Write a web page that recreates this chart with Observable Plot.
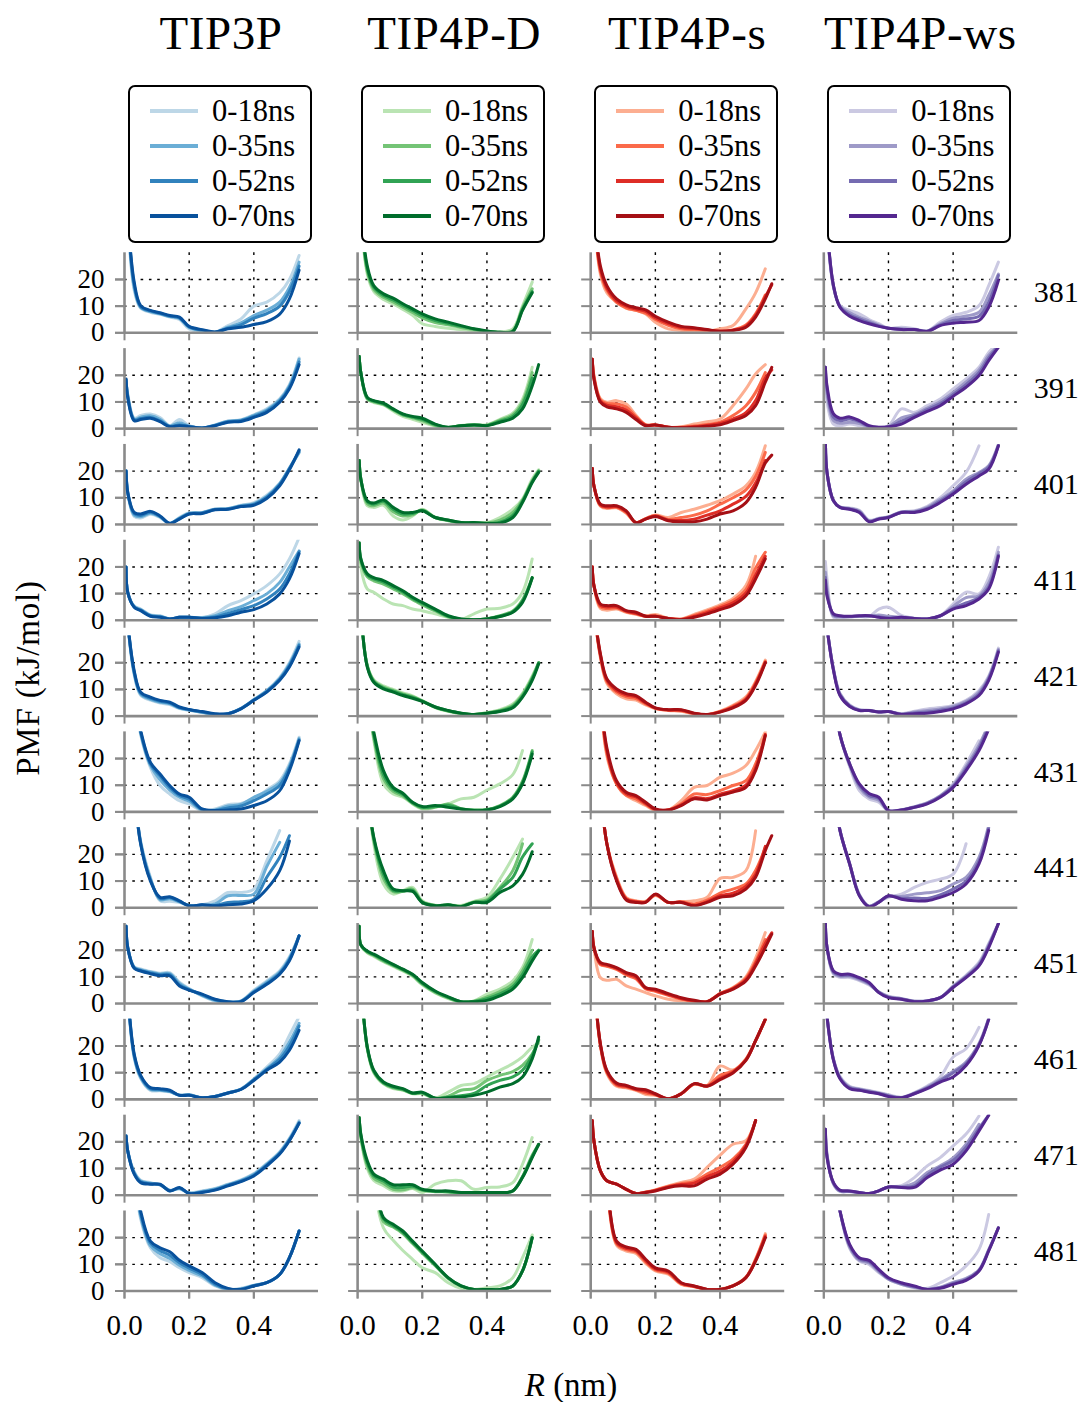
<!DOCTYPE html>
<html>
<head>
<meta charset="utf-8">
<script src="https://cdn.jsdelivr.net/npm/d3@7"></script>
<script src="https://cdn.jsdelivr.net/npm/@observablehq/plot@0.6"></script>
<style>
  body { margin: 0; background: #fff; }
  #wrap { position: relative; width: 1083px; height: 1402px; font-family: "Liberation Serif", "Times New Roman", serif; color: #000; }
  .title { position: absolute; top: 10px; width: 260px; text-align: center; font-size: 47px; line-height: 47px; letter-spacing: 0.6px; }
  .legend { position: absolute; top: 85px; width: 184px; height: 158px; box-sizing: border-box; border: 2px solid #000; border-radius: 7px; background: #fff; }
  .lgline { position: absolute; width: 48px; height: 3.6px; }
  .lgtext { position: absolute; font-size: 30.5px; line-height: 30px; white-space: nowrap; }
  #chart { position: absolute; left: 0; top: 245px; }
  .ylab { position: absolute; left: 28px; top: 678px; transform: translate(-50%, -50%) rotate(-90deg); font-size: 33px; white-space: nowrap; letter-spacing: 0.8px; }
  .xlab { position: absolute; left: 571px; top: 1385px; transform: translate(-50%, -50%); font-size: 33px; white-space: nowrap; }
</style>
</head>
<body>
<div id="wrap"></div>
<script>
// ---- data -----------------------------------------------------------
const R = [0.005,0.01,0.03,0.05,0.08,0.11,0.14,0.17,0.20,0.24,0.28,0.32,0.36,0.40,0.44,0.48,0.51,0.54,0.56];
const models = ["TIP3P","TIP4P-D","TIP4P-s","TIP4P-ws"];
const residues = [381,391,401,411,421,431,441,451,461,471,481];
const windows = ["0-18ns","0-35ns","0-52ns","0-70ns"];
const blues   = ["#bdd7e7","#6baed6","#3182bd","#08519c"];
const greens  = ["#bae4b3","#74c476","#31a354","#006d2c"];
const reds    = ["#fcae91","#fb6a4a","#de2d26","#a50f15"];
const purples = ["#cbc9e2","#9e9ac8","#756bb1","#54278f"];

// each residue: [0-18ns, 0-35ns, 0-52ns, 0-70ns], values at R (kJ/mol)
const pmfTIP3P = [
 [[null,45,16,9.2,7.7,6.9,5.9,5.0,1.5,0.5,0.2,2.7,5.2,10,11.5,15,20,29,null],
  [null,45,17,9.5,8.0,7.1,6.1,5.4,2.0,0.8,0.2,2.1,3.7,6.5,8.5,11.5,17,26.5,null],
  [null,45,18,9.8,8.2,7.3,6.3,5.6,2.2,1.0,0.2,1.7,3.0,5.5,7.2,10,15.5,25,null],
  [null,45,19,10.2,8.4,7.5,6.5,5.9,2.4,1.2,0.3,1.5,2.1,3.1,4.2,7,12.7,23.5,null]],
 [[17.5,13,4.0,4.9,5.5,4.2,1.1,3.4,1.1,0.2,1.4,2.9,3.3,5.2,7.4,11.2,16.5,26.5,null],
  [18,12.5,3.6,4.3,4.8,3.5,1.0,2.2,0.9,0.2,1.3,2.8,3.2,5.0,7.0,10.8,16,26,null],
  [18.3,12,3.3,3.8,4.2,2.9,0.8,1.4,0.8,0.2,1.2,2.6,3.0,4.6,6.6,10.3,15.5,25,null],
  [18.6,11.7,3,3.4,3.9,2.6,0.7,1.1,0.7,0.2,1.1,2.4,2.7,4.2,6.1,9.9,14.9,24,null]],
 [[20,12,3.0,2.4,3.8,2.6,0.4,2.6,4.4,4.5,5.8,6.0,7.2,8.2,11,15.5,21.2,27,null],
  [20,12,3.5,2.9,4.2,2.8,0.4,2.4,4.2,4.4,5.7,5.9,7.0,7.8,10.5,15.3,21,27,null],
  [20,12,4.0,3.4,4.6,3.0,0.4,2.2,4.0,4.3,5.6,5.8,6.8,7.5,10.2,15,21,27.5,null],
  [20,12,4.5,3.9,4.9,3.2,0.4,2,3.9,4.1,5.5,5.7,6.7,7.2,9.7,14.5,20.5,28,null]],
 [[20,10.5,5.4,4.2,2.0,1.7,0.5,1.2,1.2,1.0,2.4,5.5,7.4,9.9,13,17.4,23,31,null],
  [20,10.5,5.2,4.0,1.9,1.5,0.5,1.1,1.1,0.9,1.7,3.6,5.1,7.4,9.9,14.2,20,26,null],
  [20,10.5,5.0,3.8,1.7,1.3,0.5,1.1,1.1,0.8,1.2,2.6,4,5.5,8,11.7,17.4,25.7,null],
  [20,10.5,4.9,3.6,1.5,1.1,0.5,1.1,1.1,0.7,0.9,1.7,3,4,6.1,9.9,15.5,25,null]],
 [[null,35,15.5,7.8,6,4.9,4.3,2.8,2.2,1.3,0.5,0.9,2.9,6.2,9.6,14.5,20,28,null],
  [null,35,16,8.2,6.3,5.2,4.6,3.0,2.3,1.4,0.6,0.9,2.8,6.1,9.4,14.1,19.5,27,null],
  [null,35,16.5,8.6,6.7,5.5,4.9,3.2,2.4,1.5,0.7,0.9,2.8,6.0,9.2,13.8,19,26.5,null],
  [null,35,17,9,7.1,5.9,5.2,3.4,2.5,1.7,0.9,0.9,2.7,5.9,9,13.4,18.4,25.9,null]],
 [[null,null,45,29,16.7,9.9,6.7,4.2,3,0.5,1.1,2.7,3.2,4.9,8.2,11.7,18,28,null],
  [null,null,45,29.5,17.5,12,8.2,5.5,4.0,0.7,0.7,2.2,2.8,5.5,7.7,10.9,17.2,27.5,null],
  [null,null,45,30,18,13.5,9.2,6.2,4.8,0.9,0.5,1.5,2.2,4.2,6.7,9.9,16.5,27,null],
  [null,null,45,30.5,18.6,14.2,9.9,6.7,5.5,1.1,0.5,0.7,1.1,2.4,4.2,8,15.5,26.7,null]],
 [[null,null,45,25,11.5,2.6,2.4,2.0,0.7,1.1,2.6,5.7,5.7,7,17.6,28.9,null,null,null],
  [null,null,45,24.5,11,3.0,3.4,2.2,0.8,1.0,1.4,4.5,4.6,5.1,15.4,24.5,null,null,null],
  [null,null,45,24,10.5,3.5,3.8,2.4,0.8,1.0,0.8,2.0,2.2,3.2,11.4,18.9,27,null,null],
  [null,null,45,23.9,10.1,3.9,4.1,2.6,0.7,1.1,0.7,1.1,1.4,2.6,7,13.9,25,null,null]],
 [[29,21,13.8,13,12,11.4,11.6,8,5.6,2.9,1.0,0.4,1.0,5,8.5,12.3,17.5,25.4,null],
  [29,21,13.6,12.7,11.8,11.1,11.2,7.5,5.4,3.1,1.2,0.5,0.9,4.6,8.0,11.8,17,25.4,null],
  [29,21,13.4,12.4,11.5,10.8,10.8,7.0,5.2,3.3,1.4,0.6,0.8,4.3,7.5,11.3,16.5,25.4,null],
  [29,21,13.2,12.2,11.2,10.4,10.4,6.6,5,3.5,1.6,0.7,0.7,4.1,7.2,11,16,25.4,null]],
 [[null,40,15.5,7.8,3.4,3.2,2.8,1.7,1.8,0.6,1.2,2.5,3.9,7.7,12.1,17.1,24,31,null],
  [null,40,16,8.2,3.7,3.4,2.9,1.6,1.7,0.6,1.1,2.4,3.8,7.5,11.5,15.8,21.5,28.5,null],
  [null,40,16.5,8.6,4.0,3.7,3.1,1.5,1.6,0.6,1.1,2.4,3.8,7.3,11.2,15,20,27.5,null],
  [null,40,17,9,4.4,4,3.4,1.5,1.5,0.6,1.1,2.4,3.7,7.1,10.9,14,18.4,25.9,null]],
 [[22.2,16.6,8.8,5.6,4.7,3.8,1.9,2.3,0.9,1.6,2.5,4.1,5.7,8.1,11.9,16.3,21.3,28,null],
  [22.2,16.6,8.5,5.3,4.5,3.9,1.8,2.5,0.8,1.4,2.3,3.9,5.5,7.8,11.6,16,21,27.5,null],
  [22.2,16.6,8.2,5.0,4.3,4.0,1.7,2.7,0.7,1.2,2.1,3.7,5.3,7.5,11.3,15.7,20.7,27,null],
  [22.2,16.6,7.9,4.7,4.1,4.1,1.6,2.9,0.6,1,1.9,3.5,5.1,7.2,11,15.4,20.4,27,null]],
 [[null,null,45,27,16.2,12.5,11,8.7,6.9,5,1.9,0.6,1,2.2,3.2,6.2,12.5,22.5,null],
  [null,null,45,28,17,14,12.2,9.7,7.7,5.6,2.2,0.7,0.8,2.1,3.1,6.2,12.5,22.5,null],
  [null,null,45,29,18,15.2,13.4,10.6,8.6,6.2,2.6,0.8,0.7,2.0,3.1,6.2,12.5,22.5,null],
  [null,null,45,30,18.7,16.2,14.7,11.5,9.4,6.9,3.1,1,0.6,1.9,3.1,6.2,12.5,22.5,null]]
];

const pmfTIP4PD = [
 [[null,45,22,15.5,12.5,10.8,8.8,6.6,3.4,2.4,1.7,1.2,0.8,0.4,0.2,1.5,10,19,null],
  [null,45,23,16.3,13.3,11.6,9.6,7.6,5.6,3.8,3,2,1.2,0.5,0.2,0.8,9.3,16.5,null],
  [null,45,24,17,14,12.3,10.3,8.4,6.4,4.6,3.5,2.4,1.4,0.6,0.2,0.6,8.8,15.5,null],
  [null,45,25,17.7,14.6,13,10.9,9,7.1,5.2,4,2.7,1.5,0.7,0.2,0.5,8.4,15,null]],
 [[27,21,11,9.8,8.9,6.6,4.6,3.5,2.4,1.0,0.4,1.2,1.5,1.5,3.5,5.8,11,23,null],
  [27,21,11.2,10,9.1,7,5.1,4.1,3.0,1.2,0.4,1.1,1.4,1.3,3.2,5.2,10,21,null],
  [27,21,11.5,10.3,9.3,7.2,5.3,4.3,3.5,1.5,0.4,1.1,1.4,1.2,2.8,4.6,9,19,null],
  [27,21,11.7,10.5,9.6,7.4,5.5,4.6,3.9,1.7,0.5,1.1,1.4,1.1,2.4,3.9,7.4,16,24]],
 [[24,17,7,6.4,7.2,3.2,1.7,3.2,5.7,2.6,1.4,0.6,0.6,0.7,2.6,5.7,9.5,17,20.5],
  [24,17,7.8,7,8.0,4.8,3.2,3.6,5.4,2.6,1.5,0.6,0.6,0.5,1.6,4.5,9.1,16.4,20],
  [24,17,8.5,7.6,8.7,5.7,3.9,4.1,5.2,2.6,1.6,0.7,0.7,0.4,0.8,3.4,8.7,16,20],
  [24,17,8.9,8,9.2,6.4,4.5,4.5,5.1,2.6,1.7,0.7,0.7,0.4,0.5,2.6,8.2,15.7,19.5]],
 [[29,20,11.7,10.5,8,6.1,5.5,4.2,3.6,2.4,1.1,0.3,2.4,4.2,4.5,6.1,10.5,23,null],
  [29,22,16.3,14.8,13.6,11.8,10,7.7,5.8,3.5,1.3,0.3,0.2,0.6,1.7,3.5,7.7,16,null],
  [29,23,17,15.5,14.3,12.4,10.6,8.2,6.3,3.9,1.5,0.4,0.2,0.5,1.5,3.2,7.2,15.8,null],
  [29,23,17.4,16,14.9,13,11.1,8.6,6.7,4.2,1.7,0.5,0.2,0.5,1.4,3,6.7,16,null]],
 [[null,40,19,13.6,11.3,10,8.7,7.6,5.8,3.2,1.8,1.0,0.6,1.3,2.4,4.5,8.5,15,20],
  [null,40,18.8,13.3,10.9,9.6,8.3,7.3,5.7,3.3,1.9,1.0,0.6,1.2,2.1,4.0,8.0,14.5,20],
  [null,40,18.6,13,10.5,9.3,8.0,7.0,5.6,3.4,2.0,1.1,0.6,1.1,1.9,3.6,7.5,14,20],
  [null,40,18.4,12.7,10.2,9,7.7,6.7,5.5,3.4,2.1,1.1,0.6,1.1,1.7,3.1,7.1,13.4,19.6]],
 [[null,null,45,27,10.5,6.7,5.5,3,1.1,1.7,3,4.9,5.5,8.2,10.5,14,23,null,null],
  [null,null,45,28,12.5,7.7,6.0,3.2,1.4,1.8,3.0,1.2,0.7,0.9,2.4,5.5,11.5,23,null],
  [null,null,45,29,14,8.5,6.5,3.4,1.7,2.0,2.5,1.1,0.6,0.8,2.2,5.2,11,22.5,null],
  [null,null,45,30,15.5,9.2,7,3.6,2,2.4,1.7,1.1,0.5,0.7,2,4.9,10.5,21.7,null]],
 [[null,null,45,24,8.9,5.1,6.4,7.6,2.6,0.9,1.1,0.8,2.4,3.9,10.7,18.9,25.7,null,null],
  [null,null,45,25.5,11,6,6.2,7,2.2,0.8,1.0,0.6,2.2,3.0,7.6,13.9,24,null,null],
  [null,null,45,26,12.5,6.5,6.3,6.5,2.0,0.8,1.0,0.5,2.0,2.5,7,11.4,19,24,null],
  [null,null,45,26.4,13.9,7,6.4,6.1,2,0.7,1.1,0.4,2,2,5.7,8.2,12.5,21,null]],
 [[29,22,19,17.7,15.7,13.9,12.2,10.2,7,4,1.9,0.6,1.0,3.5,5.4,8.5,13.5,24,null],
  [29,22,19.2,18,16,14.2,12.5,10.5,7.3,4.2,2.1,0.6,0.9,2.5,4.5,7.4,12.3,20,null],
  [29,22,19.5,18.3,16.3,14.5,12.7,10.8,7.6,4.5,2.3,0.7,0.8,1.8,3.6,6.3,11,17.5,20],
  [29,22,19.7,18.5,16.6,14.7,12.9,11,7.9,4.7,2.5,0.7,0.7,1.2,2.9,5.4,9.7,16,19.7]],
 [[null,45,19,10,5.8,4,3.4,2.1,2.1,0.5,2.7,5.2,5.9,8.4,10.9,13.4,15.9,19.6,21],
  [null,45,19.2,10.3,6,4.3,3.6,2.2,2.3,0.4,1.2,3.4,4,7.1,9,10.4,12.7,17,22],
  [null,45,19.4,10.6,6.2,4.6,3.8,2.3,2.5,0.4,0.8,1.4,2.2,5.2,7.1,8.4,10.9,16.5,22.5],
  [null,45,19.6,10.9,6.5,4.9,4,2.4,2.7,0.4,0.6,0.9,1.5,2.7,4.6,5.9,8.4,15.2,23.4]],
 [[29,21.5,10,5.5,3.6,1.6,1.6,2.5,1.0,4.1,5.4,5.4,2.2,2.9,3.1,4.7,11.6,21.6,null],
  [29,22,11,6.4,4.4,2.2,2.0,2.8,1.8,1.3,1.2,0.8,0.8,1,1,1.6,7,15,19],
  [29,22.5,12,7.2,5.3,3.0,2.9,3.3,2.0,1.4,1.3,0.9,0.9,1,1,1.6,6.8,14.5,19],
  [29,22.9,12.9,7.9,6,3.9,3.9,3.9,2.2,1.6,1.6,1,1,1,1,1.6,6.6,14.1,19.1]],
 [[null,null,null,40,23.7,19,15.2,11.9,8.7,6.9,3.1,1,0.6,1.2,1.9,5,12.5,21,null],
  [null,null,null,45,26,24,21.5,17.8,14.2,9.5,4.7,1.8,0.6,0.6,0.6,1.9,7.5,20,null],
  [null,null,null,45,27,24.5,22,18.2,14.6,9.8,4.9,1.9,0.6,0.6,0.6,1.9,7.5,20,null],
  [null,null,null,45,27.5,25,22.5,18.7,15,10,5,1.9,0.6,0.6,0.6,1.9,7.5,20,null]]
];

const pmfTIP4Ps = [
 [[null,45,22,15,11.5,9.2,8.4,7.1,4,1.5,0.9,0.5,0.5,1.5,2.7,9,15,24,null],
  [null,45,23,16,11.4,9.4,8.4,7.4,5.0,2.8,1.5,1.2,1.0,0.6,1.1,2.9,7.1,14.2,null],
  [null,45,24,16.8,12,10,8.9,8,5.6,3.5,2.0,1.6,1.1,0.6,1.0,2.5,6.5,13.5,18],
  [null,45,25,17.7,12.7,10.5,9.4,8.6,6.2,4,2.4,1.9,1.2,0.6,0.9,2.1,5.9,12.7,18.4]],
 [[26,20,11.2,9.9,10.5,9.2,5,1.5,1.4,0.5,0.7,1.7,2.6,3.6,8.6,14.9,20.5,24,null],
  [26,19.5,10.8,9.4,9.3,8.1,4.5,1.4,1.4,0.5,0.5,1.0,1.6,2.4,4.9,8.6,13.6,21,null],
  [26,19,10.3,8.8,8.2,7.0,4.0,1.3,1.4,0.5,0.4,0.7,1.2,1.9,3.6,6,10.5,19,22],
  [26,18.6,9.9,8.2,7.4,6.1,3.4,1.1,1.4,0.5,0.3,0.5,0.9,1.4,3,4.9,8.6,17.4,23]],
 [[21,14.5,6.8,6,6.2,4.2,0.7,2.2,3.5,2.6,4.5,5.7,7.2,8.9,11.4,14.5,19.5,29.5,null],
  [21,14.5,7.0,6.3,6.4,4.5,0.7,2.2,3.4,1.9,2.6,3.5,5.1,7.6,10,13,18,27,null],
  [21,14.5,7.3,6.6,6.7,4.8,0.7,2.1,3.2,1.6,1.5,2.0,3.5,5.1,7.6,10.5,15.5,24,null],
  [21,14.5,7.6,7,7,5.1,0.7,2,3,1.4,1,1,2,3.9,5.1,8.2,13.9,23,26]],
 [[20,13,4.4,3.8,4.2,3.0,2.2,1.6,2.2,0.8,0.5,2.2,3.9,5.8,8.2,13,24,null,null],
  [20,13,5.0,4.4,4.6,3.2,2.4,1.5,1.7,0.7,0.4,1.8,3.4,5.2,7.4,11.5,19.5,25.5,null],
  [20,13,5.6,5.0,5.0,3.4,2.6,1.5,1.5,0.7,0.3,1.4,2.9,4.6,6.5,10.2,17,24,null],
  [20,13,6.1,5.5,5.5,3.6,3,1.5,1.5,0.7,0.2,1.1,2.4,4,5.7,9.2,15.5,23,null]],
 [[null,40,22,12.3,8.4,6.5,6,4.2,2.8,2.1,1.8,0.8,0.5,1.8,4.0,7.2,13,21,null],
  [null,40,22.5,13,9,7.2,6.6,4.6,2.9,2.2,2.0,0.9,0.5,1.7,3.7,6.7,12.5,20.5,null],
  [null,40,23,13.5,9.6,7.9,7.2,4.9,3.0,2.3,2.2,1.0,0.5,1.6,3.4,6.3,12,20.2,null],
  [null,40,23.4,14,10.2,8.4,7.7,5.2,3.1,2.4,2.4,1.1,0.6,1.5,3.1,5.9,11.5,20,null]],
 [[null,null,45,21,10.5,6.1,4.2,2.4,0.5,0.7,4.2,9.2,9.9,13,14.5,17.4,23,30,null],
  [null,null,45,22,10.5,6.2,4.9,2.8,0.7,0.7,3.0,6.7,6.5,8,9.9,11.7,18,29,null],
  [null,null,45,23,11,6.8,5.6,3.2,0.9,0.7,2.6,5.3,5.0,6.6,8.0,10,16.5,29,null],
  [null,null,45,24,11.7,7.4,6.1,3.6,1.1,0.7,2.4,4.9,4.5,6.1,7.4,9.2,15.5,28.6,null]],
 [[null,null,45,24,11.5,3.8,2.6,2.4,4.6,2.0,2.3,2.6,3.9,11,11.4,13.9,28.9,null,null],
  [null,null,45,24,11,3.5,2.4,2.2,4.8,2.0,2.2,1.4,2.8,5.5,7,8.9,14,22.6,null],
  [null,null,45,24,10.5,3.2,2.2,2.1,5.0,2.0,2.1,0.9,2.3,4.5,5.5,8,12.5,23,null],
  [null,null,45,24,10.1,2.9,2,2,5.1,2,2,0.7,2,3.9,4.5,7,11.4,21.4,27]],
 [[27,21,9.7,8.7,9.1,6.6,5.4,4.1,2.9,1.6,1,0.8,0.7,3.8,6.0,10,17,26.6,null],
  [27,21,14.6,14,12.8,10.7,9.3,5.5,4.6,3.1,1.7,0.9,0.7,3.7,5.8,9.5,15.8,24,null],
  [27,21,15,14.4,13.2,11.2,9.9,5.8,5.0,3.4,1.9,1.0,0.7,3.6,5.6,9,15,22.5,26.5],
  [27,21,15.4,14.7,13.5,11.6,10.4,6,5.4,3.7,2.2,1.2,0.7,3.5,5.4,8.5,14.1,21,26]],
 [[null,45,20,9.7,4.9,4.3,3.4,1.8,1.5,0.2,2.1,5.6,5.2,12.5,11,15.2,22,30,null],
  [null,45,20.3,10.1,5.3,4.6,3.6,2.4,1.7,0.2,2.1,5.7,5.1,9.0,10.6,15,22,30,null],
  [null,45,20.6,10.5,5.7,4.9,3.8,3.0,1.9,0.2,2.1,5.8,5.0,7.8,10.2,14.8,22,30,null],
  [null,45,20.9,10.9,6.1,5.2,4,3.6,2.1,0.2,2.1,5.9,4.9,7.4,9.9,14.6,22,30,null]],
 [[27.9,20.4,9.1,5.4,4.1,2.2,0.6,1.2,2.0,3.5,4.8,6,10.4,15,19.1,20.4,28,null,null],
  [27.9,20.4,9.1,5.4,4.1,2.2,0.6,1.1,1.9,3.3,4.3,5.1,7.9,10.4,13.5,19.1,28,null,null],
  [27.9,20.4,9.1,5.4,4.1,2.2,0.6,1.1,1.8,3.1,4,4.5,7,9,12.5,18.5,28,null,null],
  [27.9,20.4,9.1,5.4,4.1,2.2,0.6,1,1.6,2.9,3.5,3.5,6,7.9,11.6,17.9,28,null,null]],
 [[null,null,null,42,17.2,15,14.1,10.4,7.5,6.3,2.5,1.6,0.6,0.7,2.0,5.2,12,21.5,null],
  [null,null,null,43,17.7,15.5,14.6,10.9,7.9,6.7,2.7,1.7,0.6,0.6,1.9,5.1,11.8,21,null],
  [null,null,null,44,18.2,16,15.1,11.4,8.3,7.1,2.9,1.8,0.6,0.6,1.9,5,11.5,20.5,null],
  [null,null,null,45,18.7,16.5,15.6,11.9,8.7,7.5,3.1,1.9,0.6,0.6,1.9,5,11.2,20,null]]
];

const pmfTIP4Pws = [
 [[null,40,17,10.2,8.4,7.1,5,3.4,1.7,2.1,1.5,0.7,4,6.5,7.7,10.2,17.7,26.5,null],
  [null,40,17.3,10,7.6,5.9,4.4,2.9,1.7,1.5,1.2,0.6,3.4,5.5,6.3,7.7,14,22,null],
  [null,40,17.5,9.8,6.8,5.2,3.8,2.6,1.7,1.3,1.2,0.6,3.0,4.6,5.2,6.2,11.5,21.5,null],
  [null,40,17.7,9.6,6.2,4.6,3.4,2.4,1.7,1.2,1.2,0.5,2.7,3.6,4,4.6,9.6,19.6,null]],
 [[23,10,1.7,1.1,1.7,1.1,0.5,0.5,1.1,7.4,6.1,8.6,11.1,14.9,18.6,23,28.6,32,null],
  [23,13,3.0,2.0,2.4,1.9,0.6,0.4,0.8,4.0,5.3,7.7,10.2,13.6,17.5,22,27.5,31,null],
  [23,15,4.2,3.0,3.6,2.6,0.9,0.4,0.6,2.8,4.8,7.1,9.4,12.8,16.5,21,26.5,31,null],
  [23,16,5.5,3.9,4.4,3,1.1,0.5,0.7,1.7,4.2,6.5,8.6,12.1,15.5,19.9,25.5,30.5,null]],
 [[32,19.5,8.7,6.6,6.2,5.3,1.6,2.3,2.9,4.8,5.1,6.8,10,14.5,19.5,29.5,null,null,null],
  [32,19.5,8.8,6.5,6.0,5.0,1.4,2.2,2.8,4.7,4.9,6.4,9.4,12.6,17,19.5,22,30,null],
  [32,19.5,8.9,6.4,5.8,4.7,1.2,2.1,2.7,4.6,4.7,6.0,8.8,12,16,19,21.5,29.5,null],
  [32,19.5,8.9,6.4,5.7,4.5,1,2,2.6,4.5,4.5,5.7,8.2,11.4,15.1,18.2,20.7,29.5,null]],
 [[22,15.5,1.1,1.0,1.2,1.4,1.4,4.2,4.9,1.8,0.8,0.6,1.7,6.1,10.5,9.9,16,27.4,null],
  [18,12,1.6,1.3,1.3,1.5,1.5,2.0,1.5,1.1,0.7,0.5,1.6,5.2,8.5,9.2,14,25.5,null],
  [16,10,2.0,1.5,1.4,1.6,1.7,1.3,0.9,1.1,0.7,0.5,1.6,4.5,6.5,8.5,12.5,24.5,null],
  [15,9,2.4,1.7,1.5,1.7,1.7,1.1,0.7,1.1,0.7,0.5,1.7,4.2,5.5,8,11.7,24,null]],
 [[null,33,17.7,8.6,4.2,2.4,2.2,1.6,1.7,0.9,1.8,2.7,3.2,4,5.9,9.6,15,25.5,null],
  [null,33,17.5,8.3,4.0,2.3,2.1,1.6,1.7,0.8,1.5,2.1,2.7,3.6,5.5,9.0,14.5,25,null],
  [null,33,17.3,8,3.8,2.2,2.1,1.5,1.7,0.7,1.2,1.5,2.2,3.1,5.0,8.3,14,24.5,null],
  [null,33,17.1,7.7,3.6,2.1,2.1,1.5,1.7,0.6,0.9,1.1,1.7,2.7,4.6,7.7,13.4,24,null]],
 [[null,null,45,29,17,8,4.9,3.6,0.5,0.8,2.0,3.5,6.1,10.5,18,26.7,null,null,null],
  [null,null,45,29,17.5,9.2,5.6,4.4,0.5,0.7,1.9,3.4,6.0,10,17,25,33,null,null],
  [null,null,45,29,18,10,6.2,5.0,0.5,0.7,1.8,3.2,5.8,9.6,16.2,24,32,null,null],
  [null,null,45,29,18,10.5,6.9,5.5,0.5,0.7,1.7,3,5.5,9.2,15.5,23,31,null,null]],
 [[null,null,45,29,16.4,5.0,0.7,2.3,3.9,5.1,7.6,9.5,10.7,12.6,24,null,null,null,null],
  [null,null,45,29,16.4,4.8,0.6,2.2,4.3,4.2,5.1,5.6,6.4,8.9,11.4,18.9,31,null,null],
  [null,null,45,29,16.4,4.6,0.5,2.1,4.4,3.6,3.6,3.5,4.8,7,10,17.5,30,null,null],
  [null,null,45,29,16.4,4.5,0.4,2,4.5,3.2,2.6,2.6,3.9,5.7,8.9,16.4,29,null,null]],
 [[30,21,11,9.8,9.8,8.6,7,4.4,2.8,1.9,1.0,1.0,2.2,6.6,10.6,15.5,22.5,30,null],
  [30,21,11.4,10.2,10.2,9.0,7.3,4.3,2.6,1.8,0.9,1.0,2.2,6.4,10.3,15,22,30,null],
  [30,21,11.8,10.6,10.6,9.4,7.6,4.2,2.4,1.7,0.8,1.0,2.2,6.2,10,14.5,21.5,30,null],
  [30,21,12.2,11,11,9.7,7.9,4.1,2.2,1.6,0.7,1,2.2,6,9.7,14.1,21,30,null]],
 [[null,31,15.2,8.6,4.9,4,3.3,2.6,1.7,0.8,2.5,5,8.4,15.9,19,27,null,null,null],
  [null,31,15,8.3,4.6,3.8,3.1,2.4,1.5,0.7,2.3,4.6,7.5,10.5,14,21,30.5,null,null],
  [null,31,14.8,8.0,4.3,3.6,2.9,2.2,1.3,0.6,2.2,4.3,7,10,13.4,20.5,30,null,null],
  [null,31,14.6,7.7,4,3.4,2.7,2.1,1.1,0.6,2.1,4,6.5,8.4,12.7,20.2,30,null,null]],
 [[24.7,15.5,4.1,1.4,1.3,1,0.6,1.6,3.1,3.6,6.6,11,14.1,18.5,22.9,29.7,null,null,null],
  [24.7,15,4.3,1.5,1.4,1,0.6,1.6,3.1,3.2,4.5,8.5,11,14,19.1,26.6,null,null,null],
  [24.7,14.5,4.5,1.7,1.5,1,0.6,1.6,3.1,3.0,3.5,7.5,10.5,13,18,25,30,null,null],
  [24.7,14.1,4.7,1.9,1.6,1,0.6,1.6,3.1,2.9,2.9,6.6,9.4,11.6,16.6,24.1,30,null,null]],
 [[null,null,45,30,16,11.2,10,6.9,4.4,2.5,1.2,1,3.1,5.6,9.4,15.6,28.7,null,null],
  [null,null,45,30,16.5,11.5,10.5,7.3,4.4,2.5,1.4,0.7,1.4,3.2,4.7,8,15.5,23.7,null],
  [null,null,45,30,17,12,11,7.7,4.7,2.8,1.6,0.6,1.2,2.8,4.3,7.7,15.2,23.7,null],
  [null,null,45,30,17.5,12.5,11.5,8.1,5,3.1,1.9,0.6,1,2.5,4,7.5,15,23.7,null]]
];

const yTicks = [0, 10, 20];
const xTicks = [0, 0.2, 0.4];
const xGrid = [0.2, 0.4];
const yGrid = [10, 20];

// ---- tidy table built from the arrays ---------------------------------
const sets = [pmfTIP3P, pmfTIP4PD, pmfTIP4Ps, pmfTIP4Pws];
const palettes = [blues, greens, reds, purples];
const rows = [];
sets.forEach((set, mi) => set.forEach((group, ri) => group.forEach((series, wi) => series.forEach((v, k) => {
  if (v != null) rows.push({model: models[mi], res: residues[ri], w: wi, r: R[k], pmf: v, color: palettes[mi][wi]});
}))));

// ---- layout ---------------------------------------------------------
const wrap = document.getElementById("wrap");
const step = 233.1, left0 = 124;
models.forEach((m, i) => {
  const x0 = left0 + i * step;
  const t = document.createElement("div");
  t.className = "title"; t.textContent = m;
  t.style.left = (x0 + 97 - 130) + "px";
  wrap.appendChild(t);
  const lg = document.createElement("div");
  lg.className = "legend"; lg.style.left = (x0 + 4) + "px";
  windows.forEach((w, j) => {
    const cy = 26 - 2 + j * 35;
    const ln = document.createElement("div");
    ln.className = "lgline";
    ln.style.left = "20px"; ln.style.top = (cy - 1.8) + "px";
    ln.style.background = palettes[i][j];
    lg.appendChild(ln);
    const tx = document.createElement("div");
    tx.className = "lgtext"; tx.textContent = w;
    tx.style.left = "82px"; tx.style.top = (cy - 15) + "px";
    lg.appendChild(tx);
  });
  wrap.appendChild(lg);
});
const yl = document.createElement("div");
yl.className = "ylab"; yl.textContent = "PMF (kJ/mol)";
wrap.appendChild(yl);
const xl = document.createElement("div");
xl.className = "xlab"; xl.innerHTML = "<i>R</i> (nm)";
wrap.appendChild(xl);

const grey = "#8a8a8a";
const lineMarks = windows.map((w, wi) => Plot.line(rows.filter(d => d.w === wi), {
  x: "r", y: "pmf", fx: "model", fy: "res", stroke: "color",
  z: d => d.model + "|" + d.res,
  strokeWidth: 3, curve: "catmull-rom", clip: true, strokeLinejoin: "round"
}));

const chart = Plot.plot({
  width: 1083, height: 1157,
  marginTop: 7.3, marginLeft: 124, marginRight: 65.7, marginBottom: 111.5,
  style: {fontFamily: "'Liberation Serif', 'Times New Roman', serif", fontSize: "28px", background: "transparent", overflow: "visible", color: "#000"},
  x: {domain: [0, 0.6], label: null},
  y: {domain: [0, 30], label: null},
  fx: {domain: models, paddingInner: 0.1677, paddingOuter: 0, round: false, axis: null, label: null},
  fy: {domain: residues, paddingInner: 0.165, paddingOuter: 0, round: false, axis: null, label: null},
  color: {type: "identity"},
  marks: [
    Plot.gridY(yGrid, {stroke: "#000", strokeOpacity: 1, strokeWidth: 1.4, strokeDasharray: "2.6,5.7", facetAnchor: null}),
    Plot.gridX(xGrid, {stroke: "#000", strokeOpacity: 1, strokeWidth: 1.4, strokeDasharray: "2.6,5.7", facetAnchor: null}),
    ...lineMarks,
    Plot.ruleX([0], {stroke: grey, strokeWidth: 2.6}),
    Plot.ruleY([0], {stroke: grey, strokeWidth: 2.6}),
    Plot.axisX({ticks: xTicks, tickFormat: () => "", tickSize: 8, stroke: grey, strokeWidth: 2, facetAnchor: null, label: null}),
    Plot.axisY({ticks: yTicks, tickFormat: () => "", tickSize: 9, stroke: grey, strokeWidth: 2, facetAnchor: null, label: null}),
    Plot.axisX({ticks: xTicks, tickFormat: d3.format(".1f"), tickSize: 8, tickPadding: 15, stroke: grey, strokeWidth: 2, fill: "#000", fontSize: 29, facetAnchor: "bottom", label: null}),
    Plot.axisY({ticks: yTicks, tickSize: 9, tickPadding: 11, stroke: grey, strokeWidth: 2, fill: "#000", fontSize: 27, facetAnchor: "left", label: null}),
    Plot.axisFy({anchor: "right", tickSize: 0, tickPadding: 16, fontSize: 30, fill: "#000", label: null})
  ]
});
// drop the empty label texts of the tick-only axes
chart.querySelectorAll("text").forEach(t => { if (!t.textContent.trim()) t.remove(); });
const holder = document.createElement("div");
holder.id = "chart";
holder.appendChild(chart);
wrap.appendChild(holder);
</script>
</body>
</html>
